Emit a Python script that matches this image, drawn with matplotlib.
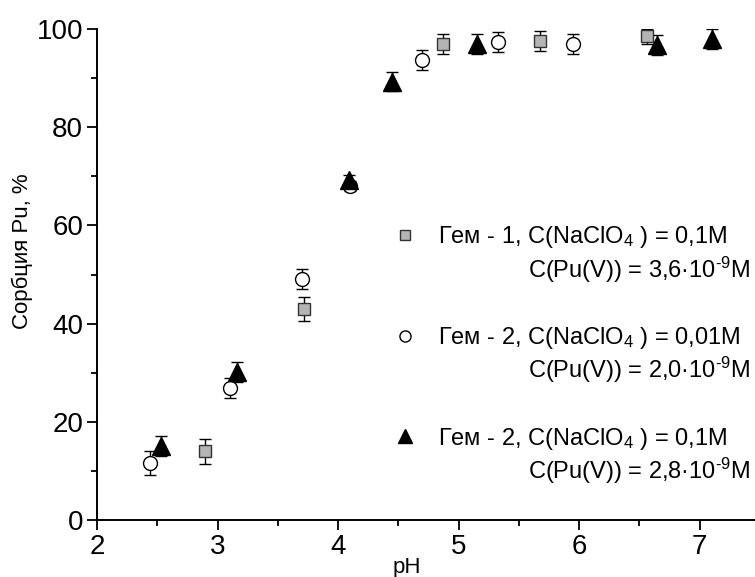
import numpy as np
import matplotlib
matplotlib.use('Agg')
import matplotlib.pyplot as plt
from matplotlib.ticker import MultipleLocator

plt.rcParams['font.family'] = ['Liberation Sans', 'DejaVu Sans']
plt.rcParams['mathtext.fontset'] = 'custom'
plt.rcParams['mathtext.rm'] = 'Liberation Sans'
plt.rcParams['mathtext.it'] = 'Liberation Sans'

# Гем-1, 0.1M NaClO4
ph1 = [2.90, 3.72, 4.87, 5.68, 6.56]
s1 = [14.0, 43.0, 96.9, 97.5, 98.5]
e1 = [2.5, 2.5, 2.0, 2.0, 1.5]

# Гем-2, 0.01M NaClO4
ph2 = [2.44, 3.10, 3.70, 4.10, 4.70, 5.33, 5.95]
s2 = [11.6, 26.9, 49.1, 68.0, 93.7, 97.3, 96.9]
e2 = [2.5, 2.0, 2.0, 1.0, 2.0, 2.0, 2.0]

# Гем-2, 0.1M NaClO4
ph3 = [2.53, 3.16, 4.09, 4.45, 5.15, 6.65, 7.10]
s3 = [15.1, 30.1, 69.2, 89.3, 96.9, 96.7, 97.9]
e3 = [2.0, 2.0, 1.0, 2.0, 2.0, 2.0, 2.0]

lab1 = ['Гем - 1, C(NaClO$_4$ ) = 0,1M', r'C(Pu(V)) = 3,6·10$^{\text{-9}}$M']
lab2 = ['Гем - 2, C(NaClO$_4$ ) = 0,01M', r'C(Pu(V)) = 2,0·10$^{\text{-9}}$M']
lab3 = ['Гем - 2, C(NaClO$_4$ ) = 0,1M', r'C(Pu(V)) = 2,8·10$^{\text{-9}}$M']

fig = plt.figure(figsize=(7.55, 5.77), dpi=100)
ax = fig.add_axes([97/755, 1-520/577, 1-97/755, 491/577])

ekw = dict(ecolor='black', elinewidth=1, capsize=4, capthick=1, linestyle='none')
h1 = ax.errorbar(ph1, s1, yerr=e1, marker='s', ms=8.5, mfc='#b4b4b4', mec='#333333', mew=1, **ekw)
h2 = ax.errorbar(ph2, s2, yerr=e2, marker='o', ms=10, mfc='white', mec='black', mew=1, **ekw)
h3 = ax.errorbar(ph3, s3, yerr=e3, marker='^', ms=12.5, mfc='black', mec='black', mew=1, **ekw)

ax.set_xlim(2, 7.46)
ax.set_ylim(0, 100)
ax.spines['top'].set_visible(False)
ax.spines['right'].set_visible(False)
for s in ['left', 'bottom']:
    ax.spines[s].set_linewidth(1.4)

ax.xaxis.set_major_locator(MultipleLocator(1))
ax.xaxis.set_minor_locator(MultipleLocator(0.5))
ax.yaxis.set_major_locator(MultipleLocator(20))
ax.yaxis.set_minor_locator(MultipleLocator(10))
ax.tick_params(which='major', direction='out', length=7, width=1.3, labelsize=20, pad=3)
ax.tick_params(which='minor', direction='out', length=4, width=1.3)

ax.set_xlabel('pH', fontsize=16)
ax.xaxis.set_label_coords((407-97)/658, -0.076)
ax.set_ylabel('Сорбция Pu, %', fontsize=16)
ax.yaxis.set_label_coords(-0.097, 0.548)

# легенда: первая строка с маркером
hs = [h1[0], h2[0], h3[0]]
leg = ax.legend(hs, [lab1[0], lab2[0], lab3[0]], loc='upper left',
                bbox_to_anchor=(396/755, 1-224/577), bbox_transform=fig.transFigure,
                frameon=False, fontsize=17, labelspacing=3.17, handletextpad=1.0,
                handlelength=0.8, borderpad=0, borderaxespad=0, markerscale=0.8)

# вторые строки
for lab, yp in zip([lab1, lab2, lab3], [270, 370, 471]):
    fig.text(750/755, 1-yp/577, lab[1], fontsize=17, ha='right', va='center')

fig.savefig('out.png', dpi=100)
